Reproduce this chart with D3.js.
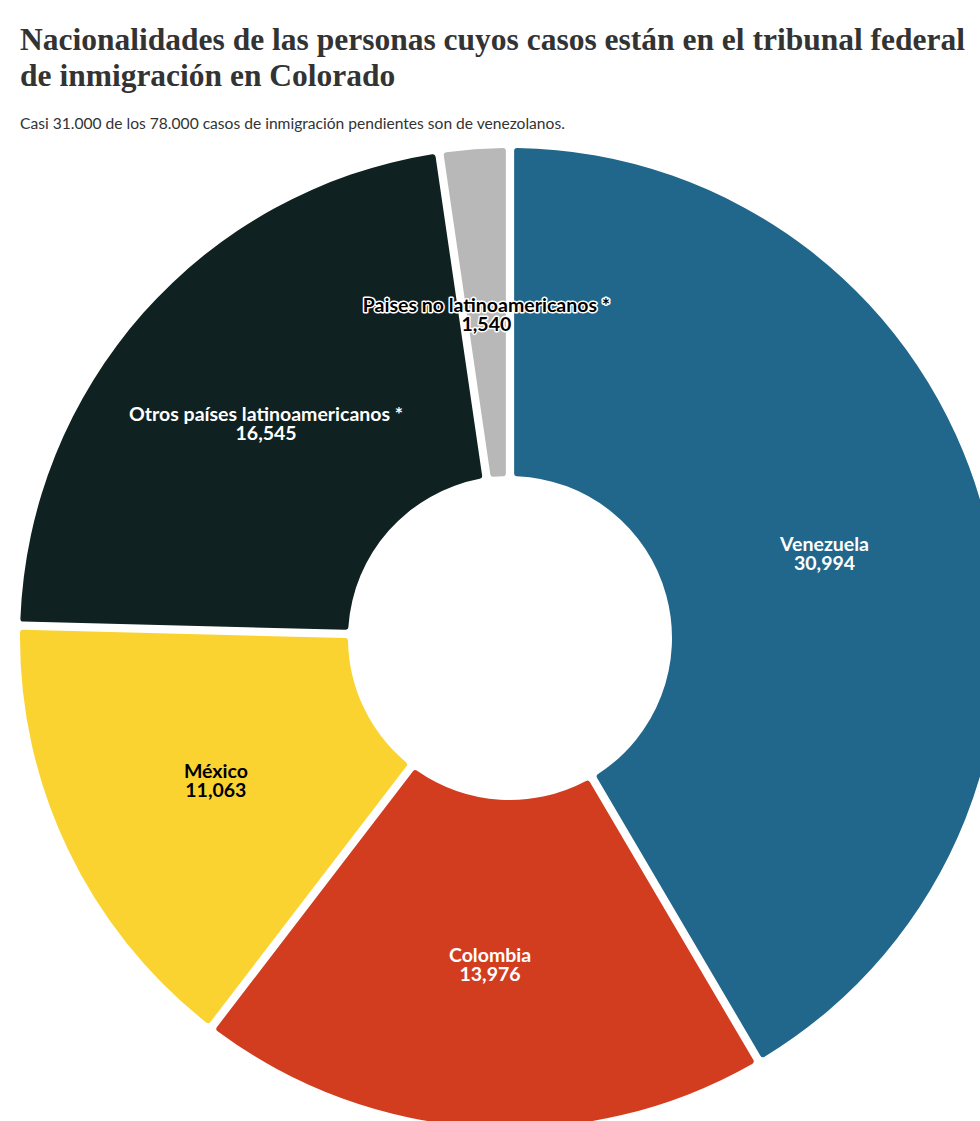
<!DOCTYPE html>
<html>
<head>
<meta charset="utf-8">
<script src="https://cdn.jsdelivr.net/npm/d3@7"></script>
<style>
  body { margin: 0; background: #fff; }
  svg text { font-family: "Lato", "Noto Sans", sans-serif; }
</style>
</head>
<body>
<svg id="donut"></svg>
<script>
// donut chart data
const categories = ["Venezuela", "Colombia", "México", "Otros países latinoamericanos *", "Paises no latinoamericanos *"];
const cases = [30994, 13976, 11063, 16545, 1540];
const colors = ["#21678b", "#d33d1f", "#fbd331", "#102121", "#b8b8b8"];
const labelColors = ["#fff", "#fff", "#000", "#fff", "#000"];

const width = 980, height = 1121;
const cx = 510, cy = 638;
const outerR = 490, innerR = 162;

const data = categories.map((c, i) => ({name: c, value: cases[i], color: colors[i], text: labelColors[i]}));

const svg = d3.select("#donut")
    .attr("width", width)
    .attr("height", height);

// title + subtitle
svg.append("text")
    .attr("x", 20).attr("y", 50)
    .style("font-family", "'Liberation Serif', serif")
    .style("font-weight", "bold")
    .style("font-size", "31.5px")
    .attr("fill", "#333")
    .text("Nacionalidades de las personas cuyos casos están en el tribunal federal");
svg.append("text")
    .attr("x", 20).attr("y", 86)
    .style("font-family", "'Liberation Serif', serif")
    .style("font-weight", "bold")
    .style("font-size", "31.5px")
    .attr("fill", "#333")
    .text("de inmigración en Colorado");
svg.append("text")
    .attr("x", 20).attr("y", 129)
    .style("font-size", "15.6px")
    .attr("fill", "#333")
    .text("Casi 31.000 de los 78.000 casos de inmigración pendientes son de venezolanos.");

const pie = d3.pie()
    .value(d => d.value)
    .sort(null)
    .padAngle(0.016);

const arc = d3.arc()
    .innerRadius(innerR)
    .outerRadius(outerR)
    .cornerRadius(3);

const g = svg.append("g").attr("transform", `translate(${cx},${cy})`);

const arcs = pie(data);

g.selectAll("path")
    .data(arcs)
    .enter().append("path")
    .attr("d", arc)
    .attr("fill", d => d.data.color);

const labels = g.selectAll("text.lbl")
    .data(arcs)
    .enter().append("text")
    .attr("class", "lbl")
    .attr("text-anchor", "middle")
    .attr("transform", d => `translate(${arc.centroid(d)})`)
    .style("font-weight", "bold")
    .style("font-size", "19.5px")
    .attr("fill", d => d.data.text)
    .attr("stroke", d => d.index === 4 ? "#fff" : "none")
    .attr("stroke-width", 3)
    .attr("paint-order", "stroke")
    .attr("stroke-linejoin", "round");

labels.append("tspan")
    .attr("x", 0).attr("y", -1)
    .text(d => d.data.name);
labels.append("tspan")
    .attr("x", 0).attr("y", 18)
    .text(d => d3.format(",")(d.data.value));
</script>
</body>
</html>
